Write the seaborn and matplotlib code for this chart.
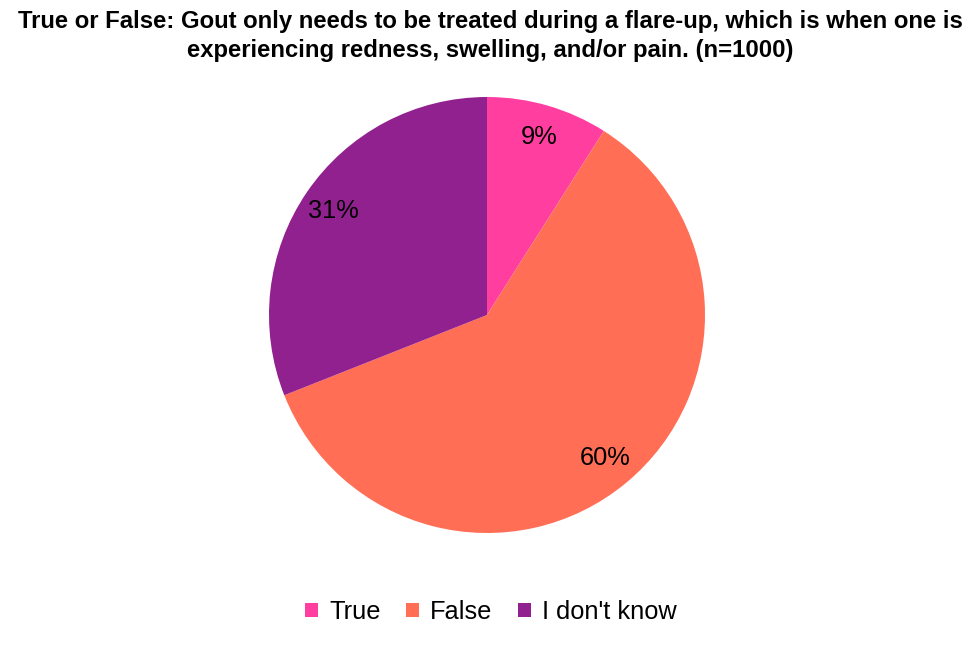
import matplotlib
matplotlib.use("Agg")
import matplotlib.pyplot as plt
import seaborn as sns
from matplotlib.patches import Patch

# ==================================================
#* Dados
# ==================================================
categorias = ["True", "False", "I don't know"]
percentuais = [9, 60, 31]
cores = ["#FF3EA0", "#FF6E55", "#922190"]

titulo = ("True or False: Gout only needs to be treated during a flare-up, which is when one is\n"
          "experiencing redness, swelling, and/or pain. (n=1000)")

# ==================================================
#* Configuração visual
# ==================================================
sns.set_theme(style="white")
plt.rcParams["font.family"] = ["Liberation Sans", "DejaVu Sans"]
paleta = sns.color_palette(cores)

fig = plt.figure(figsize=(9.8, 6.49), dpi=100)
# centro ~ (487, 315) px, raio ~ 218 px
ax = fig.add_axes([(487 - 218) / 980, (649 - 533) / 649, 436 / 980, 436 / 649])

wedges, textos, autotextos = ax.pie(
    percentuais,
    colors=paleta,
    startangle=90,
    counterclock=False,
    autopct=lambda p: f"{p:.0f}%",
    pctdistance=0.85,
    wedgeprops=dict(linewidth=0),
    textprops=dict(fontsize=18.3, color="black"),
)
ax.set_xlim(-1, 1)
ax.set_ylim(-1, 1)
ax.set_aspect("equal")
ax.axis("off")

fig.text(0.5, 1 - 36 / 649, titulo, ha="center", va="center",
         fontsize=17.2, fontweight="bold", linespacing=1.3, color="black")

handles = [Patch(facecolor=c, edgecolor="none") for c in paleta]
fig.legend(handles, categorias, loc="center",
           bbox_to_anchor=(491 / 980, 1 - 612 / 649), ncol=3, frameon=False,
           fontsize=18.3, handlelength=0.5, handleheight=0.5,
           handletextpad=0.45, columnspacing=1.0, labelcolor="black")

fig.savefig("out.png", dpi=100)
